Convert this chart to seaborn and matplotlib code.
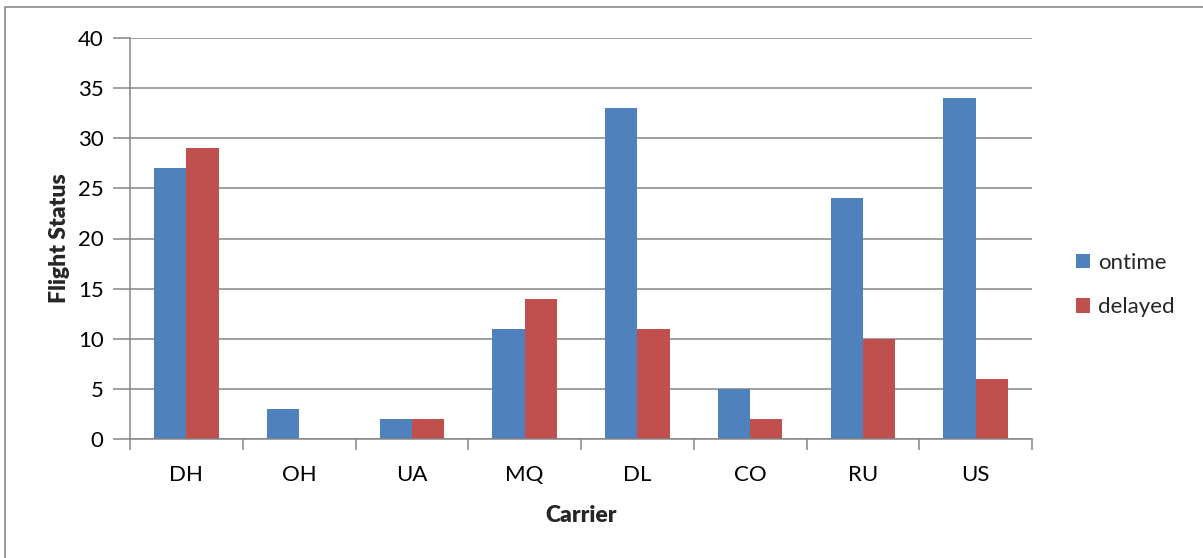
import matplotlib
matplotlib.use("Agg")
import matplotlib.pyplot as plt
import matplotlib.patches as mpatches
import numpy as np
import pandas as pd
import seaborn as sns

carriers = ["DH", "OH", "UA", "MQ", "DL", "CO", "RU", "US"]
ontime = [27, 3, 2, 11, 33, 5, 24, 34]
delayed = [29, 0, 2, 14, 11, 2, 10, 6]
series_names = ["ontime", "delayed"]
colors = ["#4F81BD", "#C0504D"]

df = pd.DataFrame({
    "Carrier": carriers * 2,
    "Count": ontime + delayed,
    "Status": [series_names[0]] * len(carriers) + [series_names[1]] * len(carriers),
})

sns.set_theme(style="white")
plt.rcParams["font.family"] = ["Lato", "DejaVu Sans"]

W, H = 1203, 558
FS = 16
fig = plt.figure(figsize=(W / 100, H / 100), dpi=100)
fig.patch.set_facecolor("white")

# chart-area frame
fig.patches.append(mpatches.Rectangle((5 / W, -0.1), 1.2, (H - 7) / H + 0.1,
                                      transform=fig.transFigure, fill=False,
                                      edgecolor="#8c8c8c", linewidth=1.2))

ax = fig.add_axes([130 / W, (H - 439) / H, 902 / W, 401 / H])
sns.barplot(data=df, x="Carrier", y="Count", hue="Status", order=carriers,
            hue_order=series_names, palette=colors, width=0.57, gap=0,
            saturation=1, edgecolor="none", legend=False, ax=ax)

ax.set_xlim(-0.5, len(carriers) - 0.5)
ax.set_ylim(0, 40)
ax.set_yticks(np.arange(0, 41, 5))
ax.yaxis.grid(True, color="#868686", linewidth=1.1)
ax.set_axisbelow(True)
for side in ["top", "right"]:
    ax.spines[side].set_visible(False)
for side in ["left", "bottom"]:
    ax.spines[side].set_color("#868686")
    ax.spines[side].set_linewidth(1.1)

ax.tick_params(axis="y", which="major", left=True, length=12, width=1.1,
               color="#868686", labelsize=FS, pad=7, labelcolor="black")
ax.set_xticks(np.arange(len(carriers)))
ax.set_xticklabels(carriers)
ax.tick_params(axis="x", which="major", length=0, labelsize=FS, pad=19,
               labelcolor="black")
ax.set_xticks(np.arange(-0.5, len(carriers)), minor=True)
ax.tick_params(axis="x", which="minor", bottom=True, length=8, width=1.1,
               color="#868686")

ax.set_xlabel("Carrier", fontsize=FS + 0.5, fontweight="heavy", labelpad=14)
ax.set_ylabel("Flight Status", fontsize=FS + 0.5, fontweight="heavy", labelpad=6)

handles = [mpatches.Patch(facecolor=c, edgecolor="none", label=n)
           for c, n in zip(colors, series_names)]
fig.legend(handles=handles, loc="center left",
           bbox_to_anchor=(1056 / W, 1 - 285 / H), frameon=False,
           fontsize=FS, handlelength=0.65, handleheight=0.65,
           handletextpad=0.35, labelspacing=1.1)

fig.savefig("out.png", dpi=100, facecolor="white")
